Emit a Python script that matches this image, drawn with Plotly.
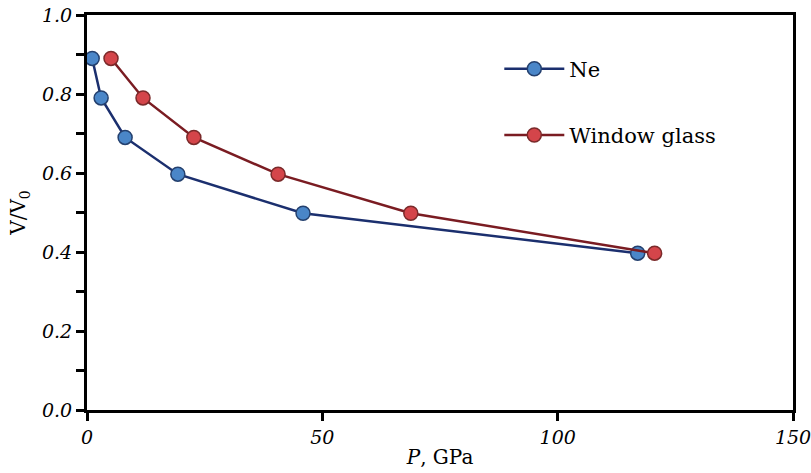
import plotly.graph_objects as go

ne_p = [1.1, 3.0, 8.1, 19.3, 45.9, 117.0]
ne_v = [0.89, 0.79, 0.69, 0.597, 0.498, 0.397]
glass_p = [5.1, 11.9, 22.7, 40.6, 68.8, 120.6]
glass_v = [0.89, 0.79, 0.69, 0.597, 0.498, 0.397]

x_ticks = [0, 50, 100, 150]
y_ticks = [0.0, 0.2, 0.4, 0.6, 0.8, 1.0]
y_tick_labels = ["0.0", "0.2", "0.4", "0.6", "0.8", "1.0"]

FONT = "DejaVu Serif"

fig = go.Figure()
fig.add_trace(go.Scatter(
    x=ne_p, y=ne_v, mode="lines+markers", name="Ne", legendgroup="a",
    line=dict(color="#1b2f6e", width=2.5),
    marker=dict(size=14, color="#4a86c8", line=dict(color="#24406e", width=1.5)),
))
fig.add_trace(go.Scatter(
    x=glass_p, y=glass_v, mode="lines+markers", name="Window glass", legendgroup="b",
    line=dict(color="#7a1c22", width=2.5),
    marker=dict(size=14, color="#d4454a", line=dict(color="#7a2a2a", width=1.5)),
))

axis_common = dict(
    showgrid=False, zeroline=False, showline=True, linecolor="black",
    mirror=True, ticks="outside", tickcolor="black", tickwidth=3, ticklen=8,
    automargin=False, ticklabeloverflow="allow",
    tickfont=dict(family=FONT, size=19, color="black", style="italic"),
)

fig.update_xaxes(range=[0, 150], tickvals=x_ticks, linewidth=2.5, **axis_common,
                 title=dict(text="<i>P</i>, GPa", font=dict(family=FONT, size=20, color="black"), standoff=4))
fig.update_yaxes(range=[0, 1.0], tickvals=y_ticks, ticktext=y_tick_labels, linewidth=3, **axis_common,
                 minor=dict(tickvals=[0.1, 0.3, 0.5, 0.7, 0.9], ticks="outside", ticklen=8, tickwidth=3, tickcolor="black"),
                 title=dict(text="V/V<sub>0</sub>", font=dict(family=FONT, size=20, color="black"), standoff=11))

fig.update_layout(
    width=811, height=473,
    margin=dict(l=87, r=18, t=15, b=63),
    paper_bgcolor="white", plot_bgcolor="white",
    legend=dict(x=0.584, y=0.915, xanchor="left", yanchor="top", bgcolor="rgba(0,0,0,0)",
                itemwidth=60,
                font=dict(family=FONT, size=21, color="black"), tracegroupgap=36),
)

fig.write_html("out.html", config={"displayModeBar": False},
               post_script="document.body.style.margin='0px';")
